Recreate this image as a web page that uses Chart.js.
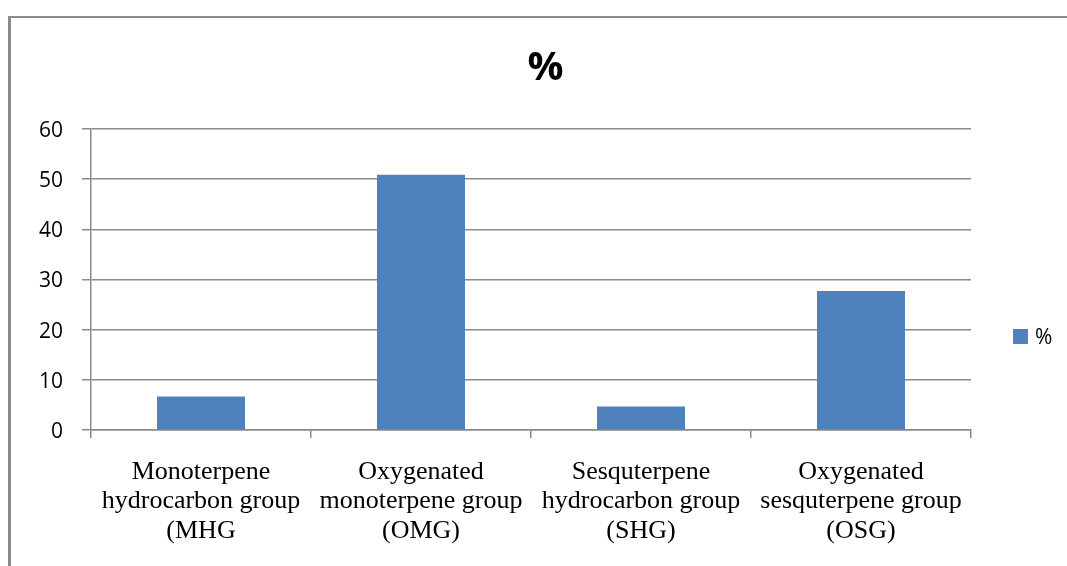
<!DOCTYPE html>
<html>
<head>
<meta charset="utf-8">
<script src="https://cdn.jsdelivr.net/npm/chart.js@4"></script>
<style>
    body { margin: 0; background: #fff; overflow: hidden; }
    #wrap { position: relative; width: 1067px; height: 566px; }
    /* outer chart frame, cut off at the right and bottom like the reference */
    #frame {
        position: absolute; left: 8px; top: 16px; width: 1200px; height: 700px;
        border-top: 2px solid #8a8a8a; border-left: 3px solid #8a8a8a;
    }
    canvas { position: absolute; left: 0; top: 0; }
</style>
</head>
<body>
<div id="wrap">
    <div id="frame"></div>
    <canvas id="chart" width="1067" height="566"></canvas>
</div>
<script>
// Chart data
const categories = [
    ['Monoterpene', 'hydrocarbon group', '(MHG'],
    ['Oxygenated', 'monoterpene group', '(OMG)'],
    ['Sesquterpene', 'hydrocarbon group', '(SHG)'],
    ['Oxygenated', 'sesquterpene group', '(OSG)']
];
const seriesName = '%';
const percentValues = [6.7, 50.9, 4.7, 27.7];
const yMin = 0;
const yMax = 60;
const yStep = 10;

const gridColor = '#8a8a8a';
const barColor = '#4f81bd';

// Simple legend drawn at the right, like the Excel one
const sideLegend = {
    id: 'sideLegend',
    afterDraw(chart) {
        const ctx = chart.ctx;
        const ds = chart.data.datasets[0];
        ctx.save();
        ctx.fillStyle = ds.backgroundColor;
        ctx.fillRect(1013, 329, 15, 15);
        ctx.fillStyle = '#000';
        ctx.font = '21px "Open Sans"';
        ctx.textBaseline = 'middle';
        ctx.textAlign = 'left';
        ctx.fillText(ds.label, 1035, 338);
        ctx.restore();
    }
};

new Chart(document.getElementById('chart'), {
    type: 'bar',
    data: {
        labels: categories,
        datasets: [{
            label: seriesName,
            data: percentValues,
            backgroundColor: barColor,
            borderColor: barColor,
            borderWidth: 0,
            barPercentage: 0.4,
            categoryPercentage: 1.0
        }]
    },
    options: {
        responsive: false,
        animation: false,
        layout: { padding: { left: 24, right: 0, top: 0, bottom: 0 } },
        plugins: {
            legend: { display: false },
            tooltip: { enabled: false },
            title: {
                display: true,
                text: '%',
                color: '#000',
                font: { family: '"Open Sans"', size: 40, weight: 'bold', lineHeight: 1.2 },
                padding: { top: 45, bottom: 36 }
            }
        },
        scales: {
            x: {
                grid: {
                    offset: true,
                    drawOnChartArea: false,
                    drawTicks: true,
                    tickLength: 8,
                    color: gridColor,
                    lineWidth: 1.5
                },
                border: { display: true, color: gridColor, width: 1.5 },
                ticks: {
                    color: '#000',
                    maxRotation: 0,
                    autoSkip: false,
                    padding: 19,
                    font: { family: '"Liberation Serif"', size: 26, lineHeight: 1.14 }
                },
                afterFit(scale) { scale.height = 136; }
            },
            y: {
                min: yMin,
                max: yMax,
                ticks: {
                    stepSize: yStep,
                    color: '#000',
                    padding: 19,
                    labelOffset: 2,
                    font: { family: '"Open Sans"', size: 21 }
                },
                grid: {
                    color: gridColor,
                    lineWidth: 1.5,
                    tickLength: 9
                },
                border: { display: true, color: gridColor, width: 1.5 },
                afterFit(scale) { scale.width = 67; }
            },
            // empty scale that only reserves room for the legend on the right
            yRoom: {
                type: 'linear',
                position: 'right',
                display: true,
                grid: { display: false },
                border: { display: false },
                ticks: { display: false },
                afterFit(scale) { scale.width = 96; }
            }
        }
    },
    plugins: [sideLegend]
});
</script>
</body>
</html>
